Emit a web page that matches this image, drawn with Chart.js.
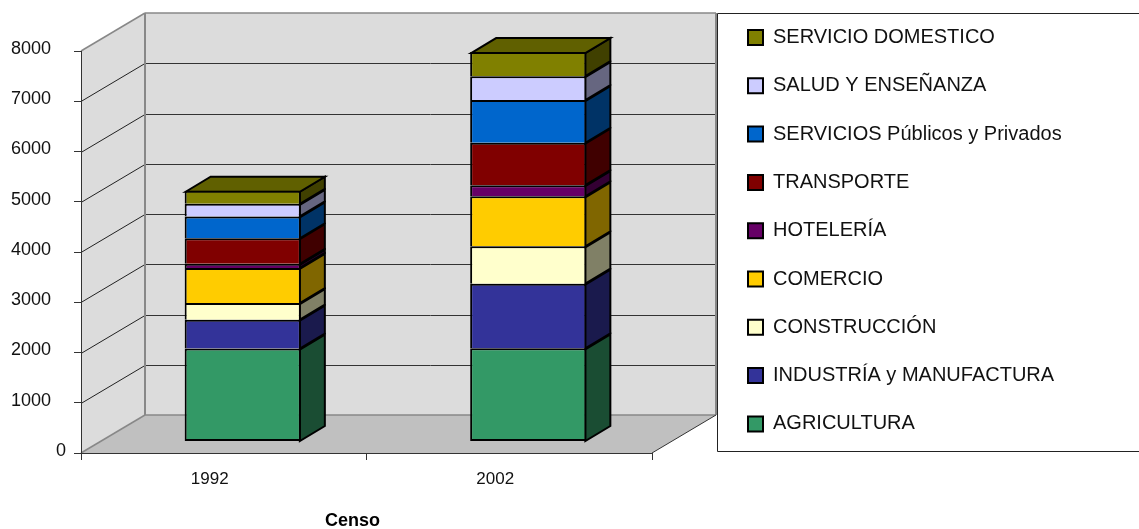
<!DOCTYPE html>
<html>
<head>
<meta charset="utf-8">
<style>
  html, body { margin: 0; padding: 0; background: #fff; }
  canvas { display: block; }
</style>
<script src="https://cdn.jsdelivr.net/npm/chart.js@4/dist/chart.umd.min.js"></script>
</head>
<body>
<canvas id="censoChart" width="1139" height="529"></canvas>
<script>
const years = ['1992', '2002'];
const agricultura = [1850, 1855];
const industria = [575, 1285];
const construccion = [330, 745];
const comercio = [700, 995];
const hoteleria = [80, 220];
const transporte = [510, 845];
const servicios = [435, 850];
const salud = [250, 475];
const domestico = [260, 480];
const axisTitle = 'Censo';

// side colour is the front colour at half brightness, top at 3/4
const series = [
  { label: 'AGRICULTURA', data: agricultura, color: [51, 153, 102] },
  { label: 'INDUSTRÍA y MANUFACTURA', data: industria, color: [51, 51, 153] },
  { label: 'CONSTRUCCIÓN', data: construccion, color: [255, 255, 204] },
  { label: 'COMERCIO', data: comercio, color: [255, 204, 0] },
  { label: 'HOTELERÍA', data: hoteleria, color: [102, 0, 102] },
  { label: 'TRANSPORTE', data: transporte, color: [128, 0, 0] },
  { label: 'SERVICIOS Públicos y Privados', data: servicios, color: [0, 102, 204] },
  { label: 'SALUD Y ENSEÑANZA', data: salud, color: [204, 204, 255] },
  { label: 'SERVICIO DOMESTICO', data: domestico, color: [128, 128, 0] }
];

const shade = (c, k) => 'rgb(' + c.map(v => Math.round(v * k)).join(',') + ')';

// depth of the floor, of the bars, and where the bars sit on the floor
const wallDx = 64, wallDy = 38;
const barDx = 25, barDy = 15;
const barShiftX = 19, barShiftY = 11.5;

function poly(ctx, pts, fill, stroke, width) {
  ctx.beginPath();
  pts.forEach((p, i) => i ? ctx.lineTo(p[0], p[1]) : ctx.moveTo(p[0], p[1]));
  ctx.closePath();
  if (fill) { ctx.fillStyle = fill; ctx.fill(); }
  if (stroke) { ctx.strokeStyle = stroke; ctx.lineWidth = width; ctx.stroke(); }
}

function line(ctx, x1, y1, x2, y2, color, width) {
  ctx.beginPath();
  ctx.moveTo(x1, y1);
  ctx.lineTo(x2, y2);
  ctx.strokeStyle = color;
  ctx.lineWidth = width;
  ctx.stroke();
}

const box3d = {
  id: 'box3d',
  afterLayout(chart) {
    // legend sits in its own frame to the right of the walls
    const legend = chart.legend;
    legend.left = 719.7;
    legend.right = 1139;
    legend.top = -0.8;
    legend.bottom = 529;
  },
  beforeDraw(chart) {
    const ctx = chart.ctx, a = chart.chartArea, y = chart.scales.y;
    const l = a.left, r = a.right, t = a.top, b = a.bottom;
    ctx.save();
    // back wall, side wall, floor
    poly(ctx, [[l + wallDx, t - wallDy], [r + wallDx, t - wallDy], [r + wallDx, b - wallDy], [l + wallDx, b - wallDy]], '#dcdcdc');
    poly(ctx, [[l, t], [l + wallDx, t - wallDy], [l + wallDx, b - wallDy], [l, b]], '#dcdcdc');
    poly(ctx, [[l, b], [l + wallDx, b - wallDy], [r + wallDx, b - wallDy], [r, b]], '#c0c0c0');
    y.ticks.forEach(tick => {
      if (tick.value === 0 || tick.value === y.max) return;
      const py = Math.round(y.getPixelForValue(tick.value)) + 0.5;
      line(ctx, l, py, l + wallDx, py - wallDy, '#222', 1);
      line(ctx, l + wallDx, py - wallDy, r + wallDx, py - wallDy, '#333', 1);
    });
    line(ctx, l, t, l + wallDx, t - wallDy, '#888', 1.5);
    line(ctx, l + wallDx, t - wallDy, r + wallDx, t - wallDy, '#888', 1.5);
    line(ctx, l + wallDx, t - wallDy, l + wallDx, b - wallDy, '#888', 2);
    line(ctx, r + wallDx, t - wallDy, r + wallDx, b - wallDy, '#888', 2);
    line(ctx, l, b, l + wallDx, b - wallDy, '#888', 1.5);
    line(ctx, l + wallDx, b - wallDy, r + wallDx, b - wallDy, '#888', 1.5);
    line(ctx, r, b, r + wallDx, b - wallDy, '#333', 1);
    // legend frame, open on the right
    ctx.fillStyle = '#fff';
    ctx.fillRect(717.5, 13.5, 422, 438);
    ctx.strokeStyle = '#222';
    ctx.lineWidth = 1;
    ctx.beginPath();
    ctx.moveTo(1139, 13.5);
    ctx.lineTo(717.5, 13.5);
    ctx.lineTo(717.5, 451.5);
    ctx.lineTo(1139, 451.5);
    ctx.stroke();
    ctx.restore();
  },
  beforeDatasetsDraw(chart) {
    const ctx = chart.ctx;
    ctx.save();
    ctx.translate(barShiftX, -barShiftY);
    // side faces, then the top face of the last stack
    series.forEach((s, i) => {
      chart.getDatasetMeta(i).data.forEach(bar => {
        const right = bar.x + bar.width / 2 - 1, left = bar.x - bar.width / 2 + 1;
        const top = bar.y + 1;
        poly(ctx, [[right, top], [right + barDx, top - barDy], [right + barDx, bar.base - barDy], [right, bar.base]],
          shade(s.color, 0.5), '#000', 2);
        if (i === series.length - 1) {
          poly(ctx, [[left, top], [left + barDx, top - barDy], [right + barDx, top - barDy], [right, top]],
            shade(s.color, 0.75), '#000', 2);
        }
      });
    });
  },
  afterDatasetsDraw(chart) {
    chart.ctx.restore();
  },
  afterDraw(chart) {
    const ctx = chart.ctx;
    ctx.save();
    ctx.font = 'bold 18px "Liberation Sans"';
    ctx.fillStyle = '#000';
    ctx.textAlign = 'center';
    ctx.textBaseline = 'middle';
    ctx.fillText(axisTitle, 352.5, 521);
    ctx.restore();
  }
};

new Chart(document.getElementById('censoChart'), {
  type: 'bar',
  data: {
    labels: years,
    datasets: series.map((s, i) => ({
      label: s.label,
      data: s.data,
      backgroundColor: shade(s.color, 1),
      borderColor: '#000',
      borderWidth: 2,
      borderSkipped: i === 0 ? false : 'bottom',
      barPercentage: 0.407,
      categoryPercentage: 1
    }))
  },
  options: {
    responsive: false,
    animation: false,
    layout: { padding: { top: 51, right: 487, bottom: 0, left: 0 } },
    plugins: {
      tooltip: { enabled: false },
      legend: {
        position: 'chartArea',
        align: 'start',
        reverse: true,
        labels: {
          boxWidth: 15,
          boxHeight: 15,
          padding: 28.3,
          color: '#111',
          font: { family: '"Liberation Sans"', size: 20 }
        }
      }
    },
    scales: {
      x: {
        stacked: true,
        afterFit(scale) { scale.height = 76; },
        border: { color: '#333', width: 1 },
        grid: { drawOnChartArea: false, tickLength: 7, tickColor: '#333' },
        ticks: { color: '#111', padding: 9, labelOffset: -14, font: { family: '"Liberation Sans"', size: 17 } }
      },
      y: {
        stacked: true,
        min: 0,
        max: 8000,
        afterFit(scale) { scale.width = 81; },
        border: { color: '#333', width: 1 },
        grid: { drawOnChartArea: false, tickLength: 7, tickColor: '#333' },
        ticks: {
          stepSize: 1000,
          color: '#111',
          padding: 8,
          labelOffset: -2,
          font: { family: '"Liberation Sans"', size: 18 },
          // the four digit labels stand further from the axis than the 0
          callback: v => v === 0 ? '0' : v + '   '
        }
      }
    }
  },
  plugins: [box3d]
});
</script>
</body>
</html>
